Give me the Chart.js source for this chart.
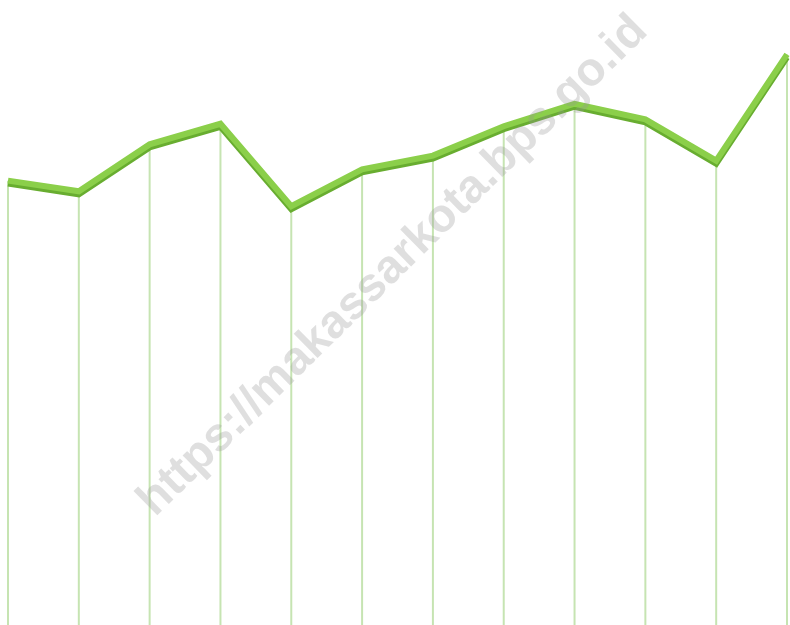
<!DOCTYPE html>
<html>
<head>
<meta charset="utf-8">
<script src="https://cdn.jsdelivr.net/npm/chart.js@4"></script>
<style>
  html, body { margin: 0; padding: 0; background: #fff; }
  #wrap { width: 790px; height: 625px; position: relative; }
</style>
</head>
<body>
<div id="wrap"><canvas id="lineChart"></canvas></div>
<script>
// Data (no axis is shown, so values are on a 0-100 scale)
const months = ['Jan', 'Feb', 'Mar', 'Apr', 'May', 'Jun', 'Jul', 'Aug', 'Sep', 'Oct', 'Nov', 'Dec'];
const values = [71.1, 69.4, 76.9, 80.2, 67.0, 72.9, 75.1, 79.8, 83.4, 80.9, 74.3, 91.3];
const watermark = 'https://makassarkota.bps.go.id';

// vertical drop lines from each point down to the bottom
const dropLines = {
    id: 'dropLines',
    beforeDatasetsDraw(chart) {
        const ctx = chart.ctx;
        const meta = chart.getDatasetMeta(0);
        ctx.save();
        ctx.strokeStyle = '#c6e4b2';
        ctx.lineWidth = 2;
        meta.data.forEach(pt => {
            ctx.beginPath();
            ctx.moveTo(pt.x, pt.y);
            ctx.lineTo(pt.x, chart.height);
            ctx.stroke();
        });
        ctx.restore();
    }
};

// darker green underside of the line
const lineShadow = {
    id: 'lineShadow',
    beforeDatasetDraw(chart) {
        const ctx = chart.ctx;
        ctx.save();
        ctx.shadowColor = '#68ad30';
        ctx.shadowOffsetX = 0;
        ctx.shadowOffsetY = 3;
        ctx.shadowBlur = 0;
    },
    afterDatasetDraw(chart) {
        chart.ctx.restore();
    }
};

const watermarkText = {
    id: 'watermarkText',
    afterDraw(chart) {
        const ctx = chart.ctx;
        ctx.save();
        ctx.translate(393, 266);
        ctx.rotate(-Math.PI / 4.05);
        ctx.font = 'bold 47px "Liberation Sans", Arial, sans-serif';
        ctx.fillStyle = 'rgba(150, 150, 150, 0.3)';
        ctx.textAlign = 'center';
        ctx.textBaseline = 'middle';
        ctx.fillText(watermark, 0, 0);
        ctx.restore();
    }
};

document.addEventListener('DOMContentLoaded', function() {
    const ctx = document.getElementById('lineChart').getContext('2d');
    new Chart(ctx, {
        type: 'line',
        data: {
            labels: months,
            datasets: [{
                data: values,
                borderColor: '#8bcf4a',
                borderWidth: 6,
                borderJoinStyle: 'miter',
                pointRadius: 0,
                tension: 0,
                fill: false,
                clip: false
            }]
        },
        options: {
            responsive: true,
            maintainAspectRatio: false,
            animation: false,
            layout: { padding: { left: 8, right: 3, top: 0, bottom: 0 } },
            plugins: {
                legend: { display: false },
                tooltip: { enabled: false }
            },
            scales: {
                x: { display: false, offset: false },
                y: { display: false, min: 0, max: 100 }
            }
        },
        plugins: [dropLines, lineShadow, watermarkText]
    });
});
</script>
</body>
</html>
